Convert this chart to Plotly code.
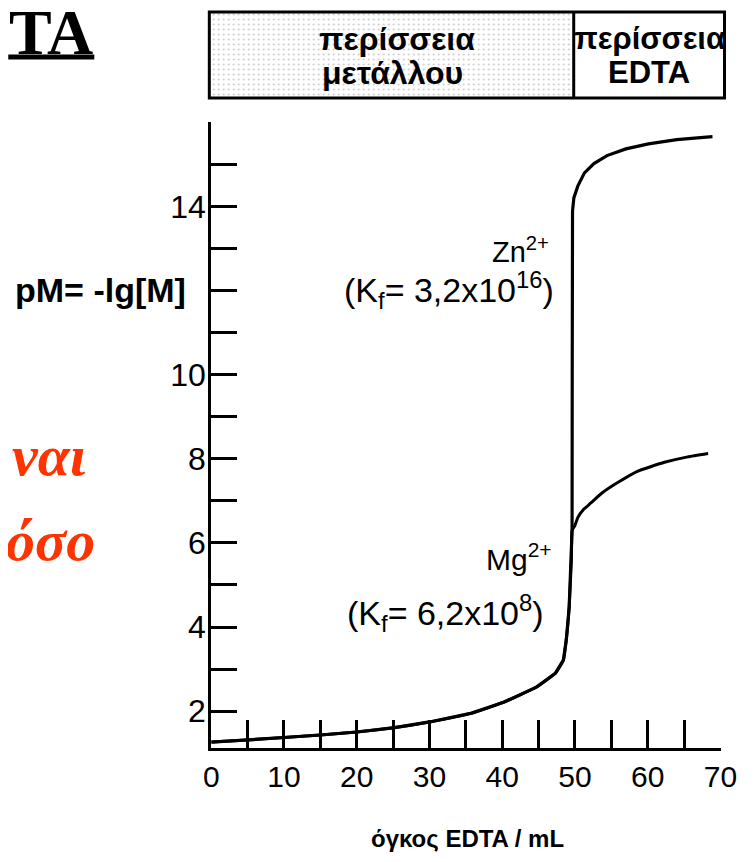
import plotly.graph_objects as go

# ---------------- data ----------------
vol_before = [0, 5, 10, 15, 20, 25, 30, 35.8, 40.2, 44.7, 47.3, 48.4, 48.8, 49.2, 49.5, 49.6]
pm_before = [1.26, 1.31, 1.37, 1.43, 1.50, 1.60, 1.74, 1.95, 2.21, 2.57, 2.90, 3.21, 3.69, 4.47, 5.59, 6.30]

vol_zn_after = [49.62, 49.66, 49.85, 50.4, 51.3, 52.6, 54.4, 57, 60.1, 64, 68.9]
pm_zn_after = [10.0, 13.9, 14.22, 14.5, 14.81, 15.03, 15.22, 15.38, 15.50, 15.60, 15.67]

vol_mg_after = [50.0, 50.4, 51.2, 52.1, 53.8, 55.7, 58.5, 62.3, 65.5, 68.3]
pm_mg_after = [6.42, 6.61, 6.80, 6.94, 7.20, 7.42, 7.70, 7.92, 8.05, 8.13]

y_tickvals = list(range(2, 17))
y_ticktext = ["2", "", "4", "", "6", "", "8", "", "10", "", "", "", "14", "", ""]
x_tickvals = list(range(0, 71, 5))
x_ticktext = ["0", "", "10", "", "20", "", "30", "", "40", "", "50", "", "60", "", "70"]

header_left = ["περίσσεια", "μετάλλου"]
header_right = ["περίσσεια", "EDTA"]

# ---------------- layout helpers ----------------
# the page body has an 8px margin: the figure starts 8px in from the window corner,
# and is kept short enough that the page never needs a scrollbar
OFF = 8
W, H = 756 - OFF, 862 - 2 * OFF
def px(x):
    return (x - OFF) / W
def py(y):
    return 1 - (y - OFF) / H

SANS = "Liberation Sans, Arial, Helvetica, sans-serif"
SERIF = "Liberation Serif, Times New Roman, serif"
RED = "#ff3300"

fig = go.Figure()

# stippled background of the "excess metal" header cell
fig.add_trace(go.Scatter(
    x=[0, 49.6, 49.6, 0, 0], y=[0, 0, 1, 1, 0], yaxis="y2",
    mode="none", fill="toself", fillcolor="rgba(0,0,0,0)",
    fillpattern=dict(shape=".", fgcolor="#8a8a8a", bgcolor="white", size=5, solidity=0.12),
    hoverinfo="skip", showlegend=False))

# Zn curve
fig.add_trace(go.Scatter(
    x=vol_before + vol_zn_after, y=pm_before + pm_zn_after,
    mode="lines", line=dict(color="black", width=3.2), showlegend=False))
# Mg curve
fig.add_trace(go.Scatter(
    x=vol_before + vol_mg_after, y=pm_before + pm_mg_after,
    mode="lines", line=dict(color="black", width=3.0, shape="spline", smoothing=0.4),
    showlegend=False))

ann = []
def A(text, x, y, size, xanchor="center", family=SANS, color="black", yanchor="middle"):
    ann.append(dict(text=text, x=px(x), y=py(y), xref="paper", yref="paper",
                    xanchor=xanchor, yanchor=yanchor, showarrow=False,
                    font=dict(size=size, family=family, color=color)))

# header texts
A("<b>%s</b>" % header_left[0], 402, 39, 32)
A("<b>%s</b>" % header_left[1], 398, 73, 32)
A("<b>%s</b>" % header_right[0], 663, 39, 31)
A("<b>%s</b>" % header_right[1], 663, 73, 31)

# curve labels
A("Zn<sup>2+</sup>", 562, 250, 29, xanchor="right")
A("(K<sub>f</sub>= 3,2x10<sup>16</sup>)", 567, 290, 34, xanchor="right")
A("Mg<sup>2+</sup>", 565, 557, 30, xanchor="right")
A("(K<sub>f</sub>= 6,2x10<sup>8</sup>)", 556, 613, 34, xanchor="right")

# axis titles
A("<b>pM= -lg[M]</b>", 186, 290, 34, xanchor="right")
A("<b>όγκος EDTA / mL</b>", 475, 838, 24)

# slide fragments on the left
A("<b>TA</b>", 90, 32, 64, xanchor="right", family=SERIF)
A("<b><i>ναι</i></b>", 83, 455, 58, xanchor="right", family=SERIF, color=RED)
A("<b><i>όσο</i></b>", 92, 540, 58, xanchor="right", family=SERIF, color=RED)

shapes = [
    dict(type="rect", xref="paper", yref="paper", x0=px(208), x1=px(741), y0=py(98), y1=py(12),
         line=dict(color="black", width=3)),
    dict(type="line", xref="paper", yref="paper", x0=px(585), x1=px(585), y0=py(98), y1=py(12),
         line=dict(color="black", width=3)),
    dict(type="line", xref="paper", yref="paper", x0=px(0), x1=px(89), y0=py(57), y1=py(57),
         line=dict(color="black", width=5)),
]

fig.update_layout(
    width=W, height=H,
    margin=dict(l=0, r=0, t=0, b=0),
    paper_bgcolor="white", plot_bgcolor="white",
    annotations=ann, shapes=shapes,
    xaxis=dict(domain=[px(210), px(737)], range=[0, 70.02], showgrid=False, zeroline=False,
               showline=True, linecolor="black", linewidth=3,
               ticks="inside", ticklen=28, tickwidth=2.5, tickcolor="black",
               tickvals=x_tickvals, ticktext=x_ticktext,
               tickfont=dict(size=30, family=SANS, color="black"), ticklabelstandoff=0),
    yaxis=dict(domain=[py(748), py(122)], range=[1.12, 16.02], showgrid=False, zeroline=False,
               showline=True, linecolor="black", linewidth=3,
               ticks="inside", ticklen=26, tickwidth=3, tickcolor="black",
               tickvals=y_tickvals, ticktext=y_ticktext,
               tickfont=dict(size=32, family=SANS, color="black"), ticklabelstandoff=-4),
    yaxis2=dict(domain=[py(98), py(12)], range=[0, 1], anchor="x", visible=False, fixedrange=True),
)

fig.write_html("out.html")
